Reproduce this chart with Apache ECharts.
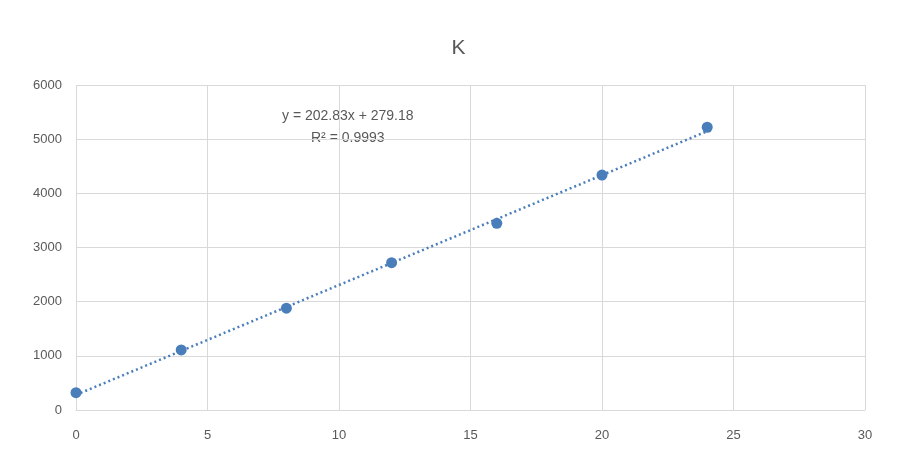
<!DOCTYPE html>
<html>
<head>
<meta charset="utf-8">
<script src="https://cdn.jsdelivr.net/npm/echarts@6/dist/echarts.min.js"></script>
<style>
html,body{margin:0;padding:0;background:#fff;}
#c{width:917px;height:466px;}
</style>
</head>
<body>
<div id="c"></div>
<script>
var titleText = 'K';
var xValues = [0, 4, 8, 12, 16, 20, 24];
var yValues = [320, 1110, 1880, 2720, 3446, 4338, 5220];
var trendSlope = 202.83;
var trendIntercept = 279.18;
var rSquared = 0.9993;
var xTicks = {min: 0, max: 30, interval: 5};
var yTicks = {min: 0, max: 6000, interval: 1000};

var font = '"Liberation Sans", sans-serif';
var pts = xValues.map(function (x, i) { return [x, yValues[i]]; });
var xs = [xValues[0], xValues[xValues.length - 1]];
var trend = xs.map(function (x) { return [x, trendSlope * x + trendIntercept]; });

var chart = echarts.init(document.getElementById('c'));
chart.setOption({
  animation: false,
  backgroundColor: '#ffffff',
  title: {
    text: titleText, left: 'center', top: 33,
    textStyle: {fontFamily: font, fontSize: 21, fontWeight: 'normal', color: '#595959'}
  },
  grid: {left: 76, right: 52, top: 85, bottom: 56},
  xAxis: {
    type: 'value', min: xTicks.min, max: xTicks.max, interval: xTicks.interval,
    axisLine: {show: true, lineStyle: {color: '#d9d9d9', width: 1}},
    axisTick: {show: false},
    axisLabel: {fontFamily: font, fontSize: 13, color: '#595959', margin: 19,
      formatter: function (v) { return String(v); }},
    splitLine: {show: true, lineStyle: {color: '#d9d9d9', width: 1}}
  },
  yAxis: {
    type: 'value', min: yTicks.min, max: yTicks.max, interval: yTicks.interval,
    axisLine: {show: false},
    axisTick: {show: false},
    axisLabel: {fontFamily: font, fontSize: 13, color: '#595959', margin: 14,
      formatter: function (v) { return String(v); }},
    splitLine: {show: true, lineStyle: {color: '#d9d9d9', width: 1}}
  },
  series: [
    {
      type: 'line', data: trend, symbol: 'none', silent: true,
      lineStyle: {color: '#4a7ebb', width: 2.5, type: [2, 3]}, z: 2
    },
    {
      type: 'scatter', data: pts, symbol: 'circle', symbolSize: 11,
      itemStyle: {color: '#4a7ebb', opacity: 1}, z: 3
    }
  ],
  graphic: [
    {type: 'text', left: 282, top: 109, style: {text: 'y = ' + trendSlope + 'x + ' + trendIntercept, fontFamily: font, fontSize: 14, fill: '#595959'}},
    {type: 'text', left: 311, top: 131, style: {text: 'R\u00B2 = ' + rSquared, fontFamily: font, fontSize: 14, fill: '#595959'}}
  ]
});
</script>
</body>
</html>
